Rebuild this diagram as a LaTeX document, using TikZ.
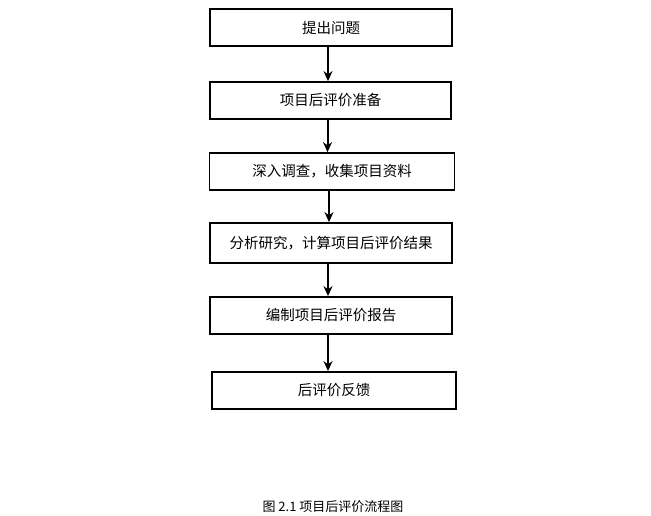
\documentclass[tikz,border=0pt]{standalone}
\usepackage{fontspec}
\newfontfamily\cjk{Noto Sans CJK SC}
\usetikzlibrary{arrows.meta}
\begin{document}
\begin{tikzpicture}[x=1pt, y=-1pt, >={Stealth[length=10pt,width=9pt]}, font=\cjk\fontsize{14.5}{17}\selectfont]
			\tikzset{stepbox/.style={draw, line width=1.8pt, minimum height=37pt, inner sep=0pt}}
			\useasboundingbox (0,0) rectangle (651,515);
			\node[stepbox, minimum width=242pt] (ask) at (331,27.5) {提出问题};
			\node[stepbox, minimum width=241pt] (prep) at (330.5,100.5) {项目后评价准备};
			\node[stepbox, minimum width=245pt] (survey) at (332,171.5) {深入调查，收集项目资料};
			\node[stepbox, minimum width=242pt, minimum height=40pt] (analyse) at (331,243) {分析研究，计算项目后评价结果};
			\node[stepbox, minimum width=242pt] (report) at (331,315.5) {编制项目后评价报告};
			\node[stepbox, minimum width=244pt] (feedback) at (334,390.5) {后评价反馈};
			\foreach \a/\b in {ask/prep, prep/survey, survey/analyse, analyse/report, report/feedback}
				\draw[->, line width=2pt] ([xshift=-3pt]\a.south) -- ([xshift=-3pt]\a.south |- \b.north);
			\node[font=\cjk\fontsize{13}{15}\selectfont] (caption) at (333,507) {图 2.1 项目后评价流程图};
		\end{tikzpicture}
\end{document}
